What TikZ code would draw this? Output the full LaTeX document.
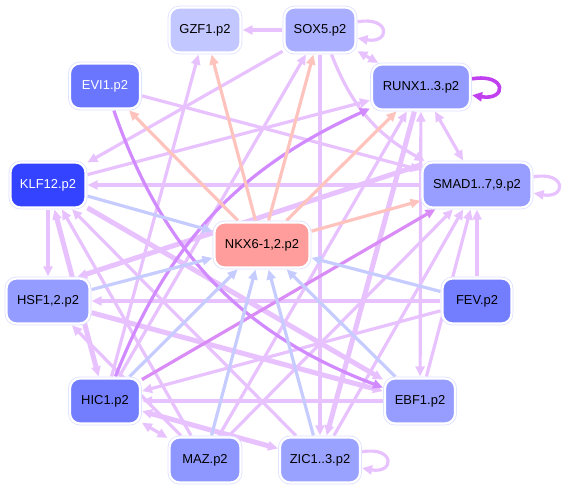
\documentclass[tikz,border=0pt]{standalone}
\usepackage{fontspec}
\setmainfont{Liberation Sans}
\usetikzlibrary{arrows.meta}
\pgfdeclarelayer{bg}
\pgfsetlayers{bg,main}
\definecolor{lav}{HTML}{DDE1FF}
\definecolor{cgzf}{HTML}{C3C7FF}
\definecolor{csox}{HTML}{A9AEFF}
\definecolor{crunx}{HTML}{939BFF}
\definecolor{csmad}{HTML}{979EFF}
\definecolor{cevi}{HTML}{6B76FF}
\definecolor{cklf}{HTML}{3443FF}
\definecolor{chsf}{HTML}{959CFF}
\definecolor{chic}{HTML}{737EFF}
\definecolor{cmaz}{HTML}{8E96FF}
\definecolor{czic}{HTML}{9AA2FF}
\definecolor{cebf}{HTML}{969DFF}
\definecolor{cfev}{HTML}{737EFF}
\definecolor{cnkx}{HTML}{FF9C9C}
\definecolor{epurple}{HTML}{E8C2FF}
\definecolor{eviolet}{HTML}{D18AFF}
\definecolor{edark}{HTML}{C040F0}
\definecolor{esalmon}{HTML}{FFC3BE}
\definecolor{eblue}{HTML}{C6CCFF}
\tikzset{
  box/.style={rounded corners=10bp, minimum height=45bp, inner sep=0pt,
    text=black, font=\fontsize{13}{15}\selectfont,
    draw=white, line width=2.2bp, preaction={draw=lav, line width=3.8bp}},
  tip/.style={-{Triangle[length=10bp,width=9bp]}},
  both/.style={{Triangle[length=10bp,width=9bp]}-{Triangle[length=10bp,width=9bp]}},
  ed/.style={line width=3.2bp, shorten >=1bp, shorten <=1bp},
  pe/.style={ed, draw=epurple, tip},
  te/.style={ed, line width=5bp, draw=epurple, tip},
  ve/.style={ed, draw=eviolet, tip},
  se/.style={ed, draw=esalmon, tip},
  be/.style={ed, draw=eblue, tip},
}
\begin{document}
\begin{tikzpicture}[x=1bp,y=-1bp]
\useasboundingbox (0,0) rectangle (562,489);
\node[box, fill=cgzf, minimum width=71bp] (gzf) at (205,30) {GZF1.p2};
\node[box, fill=csox, minimum width=71bp] (sox) at (320,30) {SOX5.p2};
\node[box, fill=crunx, minimum width=98bp] (runx) at (421,87) {RUNX1..3.p2};
\node[box, fill=csmad, minimum width=109bp] (smad) at (477,185) {SMAD1..7,9.p2};
\node[box, fill=cfev, minimum width=69bp] (fev) at (477,301) {FEV.p2};
\node[box, fill=cebf, minimum width=70bp] (ebf) at (420,401) {EBF1.p2};
\node[box, fill=czic, minimum width=80bp] (zic) at (320,460) {ZIC1..3.p2};
\node[box, fill=cmaz, minimum width=71bp] (maz) at (205,460) {MAZ.p2};
\node[box, fill=chic, minimum width=70bp] (hic) at (105,401) {HIC1.p2};
\node[box, fill=chsf, minimum width=83bp] (hsf) at (48,301) {HSF1,2.p2};
\node[box, fill=cklf, minimum width=75bp, text=white] (klf) at (48,185) {KLF12.p2};
\node[box, fill=cevi, minimum width=70bp, text=white] (evi) at (105,86) {EVI1.p2};
\node[box, fill=cnkx, minimum width=95bp] (nkx) at (262,245) {NKX6-1,2.p2};
\begin{pgfonlayer}{bg}
% light purple edges
\draw[pe] (sox) -- (gzf);
\draw[pe] (hic) -- (gzf);
\draw[pe] (hic) -- (sox);
\draw[pe] (sox) -- (klf);
\draw[pe] (sox) -- (zic);
\draw[pe] (sox) to[bend right=20] (smad);
\draw[pe, both] (sox) -- (runx);
\draw[pe, both] (runx) -- (smad);
\draw[pe] (evi) -- (smad);
\draw[pe] (klf) -- (runx);
\draw[pe] (smad) -- (klf);
\draw[pe] (klf) -- (hsf);
\draw[te, both] (klf) -- (hic);
\draw[pe] (maz) -- (klf);
\draw[pe] (zic) -- (klf);
\draw[te] (klf) -- (ebf);
\draw[te] (smad.160) -- (hsf.40);
\draw[pe] (fev) -- (hsf);
\draw[te] (hsf) -- (ebf);
\draw[pe] (maz) -- (hsf);
\draw[pe] (fev) -- (hic);
\draw[pe] (ebf) -- (hic);
\draw[te, both] (hic) -- (zic);
\draw[pe, both] (hic) -- (maz);
\draw[pe] (maz) -- (runx);
\draw[pe] (maz) -- (smad);
\draw[te] (runx) -- (zic);
\draw[pe] (zic) -- (smad);
\draw[pe] (ebf) -- (smad);
\draw[pe, both] (ebf) -- (runx);
\draw[pe] (fev) -- (smad);
% darker violet edges
\draw[ve] (evi) to[bend right=25] (ebf);
\draw[ve] (hic) to[bend left=22] (runx);
\draw[ve, draw=edark!60] (hic) -- (smad);
% salmon edges from NKX6
\draw[se] (nkx) -- (gzf);
\draw[se] (nkx) -- (sox);
\draw[se] (nkx) -- (evi);
\draw[se] (nkx) -- (runx);
\draw[se] (nkx) -- (smad);
% blue edges into NKX6
\draw[be] (klf) -- (nkx);
\draw[be] (hsf) -- (nkx);
\draw[be] (hic) -- (nkx);
\draw[be] (maz) -- (nkx);
\draw[be] (zic) -- (nkx);
\draw[be] (ebf) -- (nkx);
\draw[be] (fev) -- (nkx);
% loops
\draw[pe] ([yshift=8bp]sox.east) .. controls +(34,-6) and +(34,6) .. ([yshift=-8bp]sox.east);
\draw[pe] ([yshift=8bp]smad.east) .. controls +(34,-6) and +(34,6) .. ([yshift=-8bp]smad.east);
\draw[pe] ([yshift=8bp]zic.east) .. controls +(34,-6) and +(34,6) .. ([yshift=-8bp]zic.east);
\draw[ed, tip, draw=edark, line width=3.6bp] ([yshift=8bp]runx.east) .. controls +(36,-6) and +(36,6) .. ([yshift=-8bp]runx.east);
\end{pgfonlayer}
\end{tikzpicture}
\end{document}
